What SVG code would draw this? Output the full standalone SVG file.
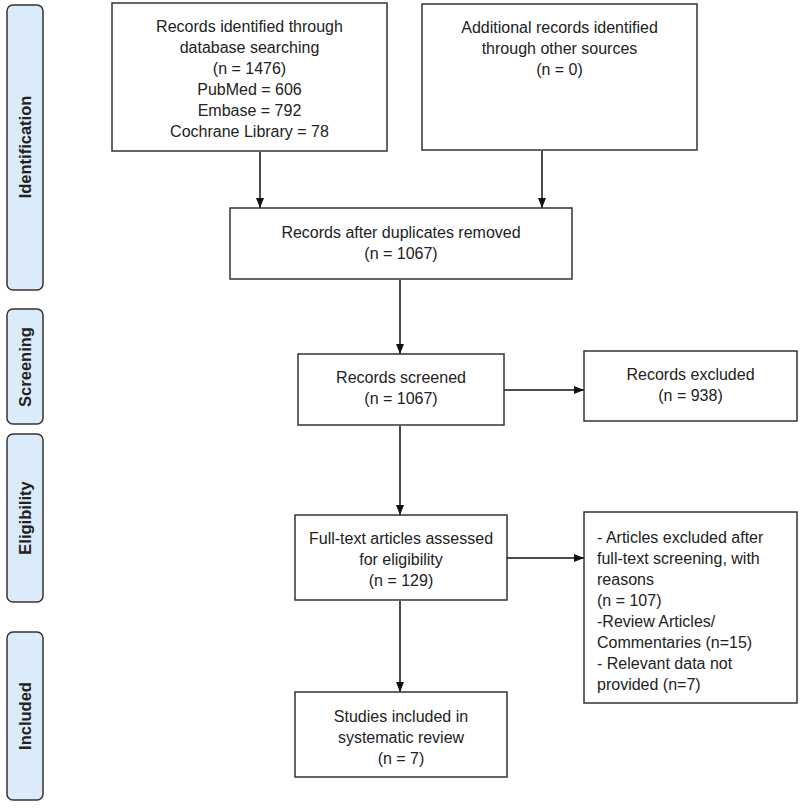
<svg xmlns="http://www.w3.org/2000/svg" width="800" height="812" viewBox="0 0 800 812">
<style>
.box{fill:#fff;stroke:#333;stroke-width:1.5}
.bar{fill:#dcebfa;stroke:#333;stroke-width:1.5}
.t{font-family:"Liberation Sans",Arial,sans-serif;font-size:16px;fill:#222;text-anchor:middle}
.tl{font-family:"Liberation Sans",Arial,sans-serif;font-size:16px;fill:#222}
.bt{font-family:"Liberation Sans",Arial,sans-serif;font-size:16.5px;font-weight:bold;fill:#222;text-anchor:middle}
.c{stroke:#111;stroke-width:1.5;fill:none;marker-end:url(#ah)}
</style>
<defs>
<marker id="ah" viewBox="0 0 10 10" refX="10" refY="5" markerWidth="10" markerHeight="10" markerUnits="userSpaceOnUse" orient="auto">
<path d="M0,1 L10,5 L0,9 Z" fill="#111"/>
</marker>
</defs>
<rect width="800" height="812" fill="#fff"/>
<g id="phase-identification"><rect class="bar" x="7" y="5" width="36" height="285" rx="6"/><text class="bt" transform="translate(31,147) rotate(-90)">Identification</text></g>
<g id="phase-screening"><rect class="bar" x="7" y="309" width="36" height="115" rx="6"/><text class="bt" transform="translate(31,367) rotate(-90)">Screening</text></g>
<g id="phase-eligibility"><rect class="bar" x="7" y="434" width="36" height="168" rx="6"/><text class="bt" transform="translate(31,518) rotate(-90)">Eligibility</text></g>
<g id="phase-included"><rect class="bar" x="7" y="632" width="36" height="168" rx="6"/><text class="bt" transform="translate(31,716) rotate(-90)">Included</text></g>
<g id="connectors">
<line class="c" x1="260" y1="152" x2="260" y2="208"/>
<line class="c" x1="542" y1="151" x2="542" y2="208"/>
<line class="c" x1="400" y1="280" x2="400" y2="354"/>
<line class="c" x1="504" y1="390" x2="584" y2="390"/>
<line class="c" x1="400" y1="426" x2="400" y2="515"/>
<line class="c" x1="507" y1="558" x2="584" y2="558"/>
<line class="c" x1="400" y1="601" x2="400" y2="692"/>
</g>
<g id="n-database"><rect class="box" x="112" y="3" width="275" height="148"/>
<text class="t" x="249.5" y="32">Records identified through</text>
<text class="t" x="249.5" y="53">database searching</text>
<text class="t" x="249.5" y="74">(n = 1476)</text>
<text class="t" x="249.5" y="95">PubMed = 606</text>
<text class="t" x="249.5" y="116">Embase = 792</text>
<text class="t" x="249.5" y="137">Cochrane Library = 78</text></g>
<g id="n-other"><rect class="box" x="422" y="4" width="275" height="146"/>
<text class="t" x="559.5" y="33">Additional records identified</text>
<text class="t" x="559.5" y="54">through other sources</text>
<text class="t" x="559.5" y="75">(n = 0)</text></g>
<g id="n-dedup"><rect class="box" x="230" y="208" width="342" height="71"/>
<text class="t" x="401" y="238">Records after duplicates removed</text>
<text class="t" x="401" y="259">(n = 1067)</text></g>
<g id="n-screened"><rect class="box" x="298" y="354" width="206" height="71"/>
<text class="t" x="401" y="383">Records screened</text>
<text class="t" x="401" y="404">(n = 1067)</text></g>
<g id="n-excluded"><rect class="box" x="584" y="351" width="213" height="70"/>
<text class="t" x="690.5" y="380">Records excluded</text>
<text class="t" x="690.5" y="401">(n = 938)</text></g>
<g id="n-fulltext"><rect class="box" x="295" y="515" width="212" height="85"/>
<text class="t" x="401" y="544">Full-text articles assessed</text>
<text class="t" x="401" y="565">for eligibility</text>
<text class="t" x="401" y="586">(n = 129)</text></g>
<g id="n-ftexcluded"><rect class="box" x="584" y="512" width="213" height="191"/>
<text class="tl" x="597" y="543">- Articles excluded after</text>
<text class="tl" x="597" y="564">full-text screening, with</text>
<text class="tl" x="597" y="585">reasons</text>
<text class="tl" x="597" y="606">(n = 107)</text>
<text class="tl" x="597" y="627">-Review Articles/</text>
<text class="tl" x="597" y="648">Commentaries (n=15)</text>
<text class="tl" x="597" y="669">- Relevant data not</text>
<text class="tl" x="597" y="690">provided (n=7)</text></g>
<g id="n-included"><rect class="box" x="295" y="692" width="212" height="85"/>
<text class="t" x="401" y="722">Studies included in</text>
<text class="t" x="401" y="743">systematic review</text>
<text class="t" x="401" y="764">(n = 7)</text></g>
</svg>
